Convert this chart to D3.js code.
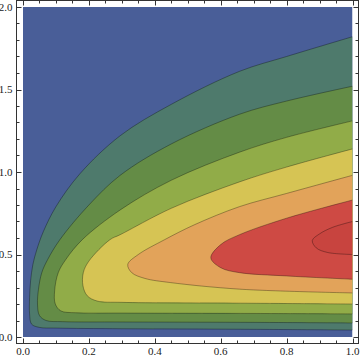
<!DOCTYPE html>
<html>
<head>
<meta charset="utf-8">
<script src="https://cdn.jsdelivr.net/npm/d3@7"></script>
<style>
  html, body { margin: 0; padding: 0; background: #fff; }
  svg { display: block; }
</style>
</head>
<body>
<div id="chart"></div>
<script>
// band colours, outermost (lowest) first
const bandColors = ["#495e98", "#4e7a6c", "#648c46", "#91ac48", "#d6c454", "#e2a35a", "#ce4a44", "#c8443f"];

// contour lines, [x, y]; each runs from the right edge round the tip and back
const contour1 = [[1, 1.82], [0.8, 1.70], [0.657, 1.61], [0.45, 1.41], [0.295, 1.22], [0.173, 0.99], [0.1, 0.79], [0.062, 0.64], [0.042, 0.53], [0.03, 0.44], [0.023, 0.34], [0.02, 0.24], [0.02, 0.14], [0.026, 0.078], [0.05, 0.058], [0.1, 0.054], [0.3, 0.05], [0.66, 0.047], [1, 0.042]];
const contour2 = [[1, 1.52], [0.8, 1.43], [0.657, 1.35], [0.45, 1.17], [0.295, 0.98], [0.2, 0.80], [0.112, 0.59], [0.075, 0.47], [0.057, 0.39], [0.047, 0.29], [0.044, 0.2], [0.05, 0.13], [0.07, 0.1], [0.12, 0.093], [0.3, 0.091], [0.66, 0.089], [1, 0.085]];
const contour3 = [[1, 1.31], [0.8, 1.21], [0.657, 1.12], [0.45, 0.95], [0.295, 0.77], [0.18, 0.59], [0.13, 0.47], [0.107, 0.39], [0.096, 0.28], [0.098, 0.2], [0.115, 0.158], [0.16, 0.147], [0.3, 0.145], [0.66, 0.143], [1, 0.14]];
const contour4 = [[1, 1.14], [0.8, 1.03], [0.657, 0.94], [0.45, 0.78], [0.295, 0.62], [0.264, 0.59], [0.2, 0.46], [0.183, 0.39], [0.182, 0.31], [0.195, 0.25], [0.225, 0.218], [0.3, 0.21], [0.66, 0.205], [1, 0.2]];
const contour5 = [[1, 0.98], [0.8, 0.87], [0.657, 0.79], [0.52, 0.68], [0.43, 0.59], [0.35, 0.50], [0.318, 0.44], [0.33, 0.39], [0.37, 0.355], [0.447, 0.33], [0.657, 0.29], [1, 0.267]];
const contour6 = [[1, 0.83], [0.8, 0.72], [0.657, 0.62], [0.6, 0.56], [0.57, 0.48], [0.6, 0.42], [0.657, 0.39], [0.8, 0.37], [1, 0.35]];
const contour7 = [[1, 0.70], [0.94, 0.665], [0.9, 0.625], [0.878, 0.585], [0.89, 0.54], [0.925, 0.512], [1, 0.5]];
const contours = [contour1, contour2, contour3, contour4, contour5, contour6, contour7];

const xTicks = [0, 0.2, 0.4, 0.6, 0.8, 1.0];
const xMinor = d3.range(0, 1.0001, 0.05);
const yTicks = [0, 0.5, 1.0, 1.5, 2.0];
const yMinor = d3.range(0, 2.0001, 0.1);

const W = 360, H = 359;
const frame = { left: 16.5, right: 358.5, top: 0.5, bottom: 343.5 };

const x = d3.scaleLinear().domain([0, 1]).range([23, 352.5]);
const y = d3.scaleLinear().domain([0, 2]).range([337, 7]);

const svg = d3.select("#chart").append("svg")
  .attr("width", W).attr("height", H);

svg.append("clipPath").attr("id", "plot-clip")
  .append("rect")
  .attr("x", x(0)).attr("y", y(2))
  .attr("width", x(1) - x(0)).attr("height", y(0) - y(2));

const plot = svg.append("g").attr("clip-path", "url(#plot-clip)");

// background band
plot.append("rect")
  .attr("x", x(0)).attr("y", y(2))
  .attr("width", x(1) - x(0)).attr("height", y(0) - y(2))
  .attr("fill", bandColors[0]);

const line = d3.line()
  .x(d => x(d[0])).y(d => y(d[1]))
  .curve(d3.curveCatmullRom.alpha(0.5));

contours.forEach((pts, i) => {
  plot.append("path")
    .attr("d", line(pts) + "Z")
    .attr("fill", bandColors[i + 1]);
});
contours.forEach(pts => {
  plot.append("path")
    .attr("d", line(pts))
    .attr("fill", "none")
    .attr("stroke", "#000")
    .attr("stroke-opacity", 0.4)
    .attr("stroke-width", 0.8);
});

// frame
const axisCol = "#333";
svg.append("rect")
  .attr("x", frame.left).attr("y", frame.top)
  .attr("width", frame.right - frame.left).attr("height", frame.bottom - frame.top)
  .attr("fill", "none").attr("stroke", axisCol).attr("stroke-width", 1);

const ticks = svg.append("g").attr("stroke", axisCol).attr("stroke-width", 1);
const isMajorX = v => xTicks.some(t => Math.abs(t - v) < 1e-6);
const isMajorY = v => yTicks.some(t => Math.abs(t - v) < 1e-6);

xMinor.forEach(v => {
  const len = isMajorX(v) ? 5 : 3;
  const px = Math.round(x(v)) + 0.5;
  ticks.append("line").attr("x1", px).attr("x2", px)
    .attr("y1", frame.bottom).attr("y2", frame.bottom - len);
  ticks.append("line").attr("x1", px).attr("x2", px)
    .attr("y1", frame.top).attr("y2", frame.top + len);
});
yMinor.forEach(v => {
  const len = isMajorY(v) ? 5 : 3;
  const py = Math.round(y(v)) + 0.5;
  ticks.append("line").attr("y1", py).attr("y2", py)
    .attr("x1", frame.left).attr("x2", frame.left + len);
  ticks.append("line").attr("y1", py).attr("y2", py)
    .attr("x1", frame.right).attr("x2", frame.right - len);
});

const fmt = d3.format(".1f");
const labelFont = "'Liberation Serif', 'DejaVu Serif', serif";

svg.append("g").selectAll("text").data(xTicks).join("text")
  .attr("x", d => x(d)).attr("y", 355)
  .attr("text-anchor", "middle")
  .style("font-family", labelFont).style("font-size", "11px").style("fill", "#222")
  .text(d => fmt(d));

svg.append("g").selectAll("text").data(yTicks).join("text")
  .attr("x", 12.5).attr("y", d => y(d) + 3.5)
  .attr("text-anchor", "end")
  .style("font-family", labelFont).style("font-size", "11px").style("fill", "#222")
  .text(d => fmt(d));
</script>
</body>
</html>
